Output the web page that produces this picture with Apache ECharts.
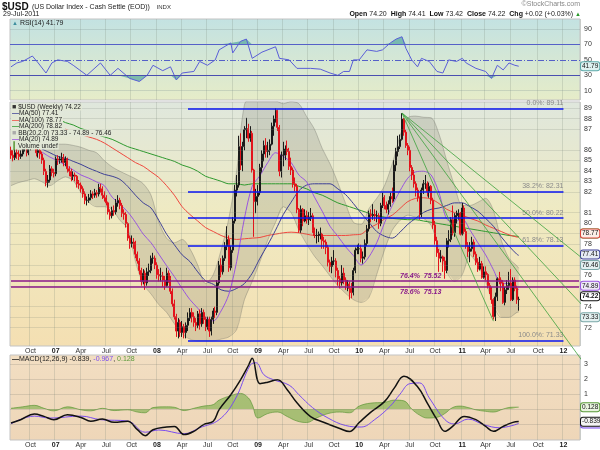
<!DOCTYPE html>
<html>
<head>
<meta charset="utf-8">
<script src="https://cdn.jsdelivr.net/npm/echarts@6.0.0/dist/echarts.min.js"></script>
<style>
  html, body { margin: 0; padding: 0; background: #fff; }
  #chart { width: 600px; height: 450px; }
</style>
</head>
<body>
<div id="chart"></div>
<script>
// weekly bars, first bar = week ending 28-Jul-2006
var startDate = '2006-07-28';
var weekCount = 293;   // axis runs on to early March 2012

var opens = [
85.6,85.2,85.0,85.4,85.3,85.1,85.3,85.9,86.0,85.4,
85.8,86.6,86.7,86.1,85.4,85.6,85.3,84.8,83.9,83.0,
83.2,84.1,83.8,83.7,84.9,84.8,84.9,85.0,84.6,84.9,
84.1,83.9,83.5,83.6,83.5,82.9,82.8,82.5,82.1,81.6,
81.6,81.8,82.1,82.0,82.2,82.1,82.6,82.5,82.0,81.8,
81.4,80.7,80.4,80.8,80.7,81.4,81.6,81.2,80.6,80.5,
79.8,78.7,78.3,78.4,78.3,77.5,77.0,76.3,75.5,76.1,
75.4,76.2,76.3,77.2,77.2,76.7,76.0,75.9,75.9,75.6,
75.2,76.1,75.7,74.8,73.9,73.0,72.0,72.6,71.9,72.3,
71.9,72.4,72.9,73.3,73.0,72.6,72.4,73.2,72.5,73.3,
72.8,72.3,72.8,72.0,72.8,73.4,73.3,75.4,76.7,76.2,
77.2,78.1,78.6,76.5,77.8,80.0,82.4,82.8,85.9,84.4,
85.9,87.3,87.4,86.6,87.0,84.0,81.5,81.9,82.2,84.2,
85.3,86.0,85.5,85.6,86.1,87.6,88.2,88.9,87.5,83.9,
85.2,85.2,85.7,85.5,84.3,84.0,82.9,82.7,80.9,79.3,
80.9,80.0,80.4,80.1,80.3,80.4,79.3,78.9,78.9,78.9,
79.0,78.5,78.4,78.0,76.9,76.6,77.0,77.0,76.3,75.7,
75.4,76.1,75.6,75.2,75.3,75.0,74.7,76.3,77.8,77.9,
77.9,77.2,77.3,78.3,79.4,80.5,80.4,80.5,80.4,80.4,
79.8,81.2,81.8,81.2,80.9,81.3,81.9,81.7,84.4,85.5,
85.9,86.5,88.2,87.1,86.0,85.6,84.2,83.6,82.9,82.4,
81.8,80.5,82.4,82.9,82.9,82.3,82.7,81.6,79.7,78.5,
77.6,77.2,77.3,77.0,76.3,78.5,78.6,80.1,79.1,80.4,
80.4,80.6,79.0,81.0,79.2,78.1,77.7,77.9,78.4,77.5,
76.9,76.4,76.8,75.8,76.2,76.0,75.2,74.9,74.2,73.0,
74.4,75.7,75.6,75.4,74.0,74.9,75.2,75.4,74.2,75.6,
75.0,74.20];
var highs = [
85.9,85.6,85.7,85.8,85.6,85.6,86.2,86.4,86.2,86.0,
86.8,87.0,86.9,86.3,86.0,85.8,85.5,85.0,84.1,83.6,
84.4,84.3,84.1,85.1,85.2,85.1,85.4,85.3,85.1,85.0,
84.3,84.1,83.9,83.8,83.6,83.2,83.0,82.7,82.3,81.9,
82.1,82.4,82.3,82.5,82.4,82.9,82.9,82.7,82.3,82.0,
81.5,80.9,81.1,81.2,81.7,82.0,81.8,81.4,80.9,80.7,
79.9,78.9,78.9,78.7,78.5,77.7,77.2,76.5,76.4,76.3,
76.5,76.8,77.4,77.6,77.4,76.9,76.4,76.5,76.2,75.9,
76.5,76.3,75.9,75.0,74.2,73.2,72.9,72.8,72.7,72.5,
72.6,73.3,73.6,73.6,73.3,72.9,73.4,73.5,73.6,73.5,
73.0,73.0,73.0,73.0,73.6,73.7,75.6,77.0,77.2,77.4,
78.4,79.6,78.9,78.1,80.3,82.8,83.6,86.8,87.0,86.3,
87.6,88.3,87.8,87.6,87.2,84.1,82.5,82.8,84.5,85.6,
86.4,86.6,86.3,86.5,87.9,88.5,89.1,89.0,87.7,85.5,
86.3,86.0,86.4,85.8,85.0,84.2,83.4,82.9,81.0,81.2,
81.0,80.9,80.8,80.7,81.0,80.6,79.5,79.4,79.2,79.5,
79.1,78.8,78.6,78.2,77.1,77.3,77.8,77.2,76.5,75.9,
76.7,76.5,75.8,75.6,75.5,75.4,76.5,78.0,78.2,78.3,
78.2,77.7,78.6,79.7,80.8,80.9,81.3,80.9,80.8,80.6,
81.4,82.2,82.0,81.5,81.6,82.2,82.6,84.8,85.8,86.8,
86.9,88.7,88.3,87.3,86.2,85.9,84.4,84.0,83.1,82.6,
81.9,82.6,83.2,83.6,83.1,83.0,82.8,81.8,80.0,78.8,
77.9,77.8,77.4,77.3,78.7,79.3,80.3,81.2,80.6,80.8,
80.9,80.7,81.4,81.2,79.4,78.4,78.4,78.8,78.6,77.7,
77.2,77.3,77.0,76.6,76.6,76.1,75.4,75.1,74.3,74.7,
75.8,76.2,75.8,75.6,75.1,75.6,76.2,76.4,75.8,75.8,
75.2,74.41];
var lows = [
84.9,84.7,84.8,84.9,84.8,84.9,85.1,85.5,85.1,85.2,
85.6,86.3,85.9,85.1,85.0,84.9,84.5,83.6,82.7,82.6,
83.0,83.5,83.4,83.5,84.4,84.5,84.6,84.3,84.3,83.8,
83.5,83.1,83.2,83.1,82.6,82.5,82.2,81.8,81.3,81.2,
81.4,81.6,81.7,81.8,81.8,81.9,82.2,81.7,81.5,81.2,
80.5,80.1,80.2,80.4,80.5,81.1,80.9,80.3,80.1,79.5,
78.5,77.9,78.0,77.9,77.2,76.8,76.0,75.2,75.3,74.9,
75.2,75.9,76.1,76.8,76.4,75.7,75.5,75.5,75.1,74.9,
75.1,75.4,74.6,73.7,72.8,71.6,71.5,71.6,71.6,71.5,
71.5,72.0,72.7,72.6,72.3,72.0,72.2,72.1,72.3,72.5,
72.0,72.1,71.6,71.7,72.5,72.9,73.1,75.2,75.8,76.0,
77.0,77.8,76.2,76.3,77.6,79.8,81.9,82.6,84.0,83.9,
85.6,86.6,86.3,86.3,83.8,78.8,80.6,81.2,82.0,83.8,
84.7,85.0,85.0,85.2,86.0,86.8,87.9,87.2,83.5,83.4,
84.3,84.8,85.2,84.0,83.6,82.6,82.3,80.6,79.1,79.1,
79.6,79.9,79.8,79.7,80.0,79.1,78.7,78.3,78.4,78.6,
77.9,77.9,77.5,76.6,76.2,76.1,76.7,75.8,75.2,75.0,
75.2,75.3,74.9,74.8,74.2,74.3,74.5,76.1,77.5,77.5,
76.9,76.8,77.1,78.1,79.2,79.9,80.1,80.0,79.9,79.4,
79.6,81.0,80.9,80.6,80.5,81.1,81.4,81.5,83.9,85.1,
85.7,86.4,86.8,85.8,85.2,83.9,83.2,82.6,81.9,81.5,
80.1,80.3,82.1,82.5,81.9,81.8,81.3,79.4,78.2,77.3,
76.2,76.9,76.2,75.7,76.1,78.0,78.4,78.9,78.8,79.8,
80.1,78.9,78.9,79.0,77.9,77.3,76.9,77.7,77.3,76.7,
76.2,76.3,75.7,75.7,75.6,75.0,74.6,73.9,72.8,72.7,
74.1,75.3,74.8,73.9,73.8,74.6,74.9,74.1,74.1,74.8,
73.9,73.42];
var closes = [
85.2,85.0,85.4,85.3,85.1,85.3,85.9,86.0,85.4,85.8,
86.6,86.7,86.1,85.4,85.6,85.3,84.8,83.9,83.0,83.2,
84.1,83.8,83.7,84.9,84.8,84.9,85.0,84.6,84.9,84.1,
83.9,83.5,83.6,83.5,82.9,82.8,82.5,82.1,81.6,81.6,
81.8,82.1,82.0,82.2,82.1,82.6,82.5,82.0,81.8,81.4,
80.7,80.4,80.8,80.7,81.4,81.6,81.2,80.6,80.5,79.8,
78.7,78.3,78.4,78.3,77.5,77.0,76.3,75.5,76.1,75.4,
76.2,76.3,77.2,77.2,76.7,76.0,75.9,75.9,75.6,75.2,
76.1,75.7,74.8,73.9,73.0,72.0,72.6,71.9,72.3,71.9,
72.4,72.9,73.3,73.0,72.6,72.4,73.2,72.5,73.3,72.8,
72.3,72.8,72.0,72.8,73.4,73.3,75.4,76.7,76.2,77.2,
78.1,78.6,76.5,77.8,80.0,82.4,82.8,85.9,84.4,85.9,
87.3,87.4,86.6,87.0,84.0,81.5,81.9,82.2,84.2,85.3,
86.0,85.5,85.6,86.1,87.6,88.2,88.9,87.5,83.9,85.2,
85.2,85.7,85.5,84.3,84.0,82.9,82.7,80.9,79.3,80.9,
80.0,80.4,80.1,80.3,80.4,79.3,78.9,78.9,78.9,79.0,
78.5,78.4,78.0,76.9,76.6,77.0,77.0,76.3,75.7,75.4,
76.1,75.6,75.2,75.3,75.0,74.7,76.3,77.8,77.9,77.9,
77.2,77.3,78.3,79.4,80.5,80.4,80.5,80.4,80.4,79.8,
81.2,81.8,81.2,80.9,81.3,81.9,81.7,84.4,85.5,85.9,
86.5,88.2,87.1,86.0,85.6,84.2,83.6,82.9,82.4,81.8,
80.5,82.4,82.9,82.9,82.3,82.7,81.6,79.7,78.5,77.6,
77.2,77.3,77.0,76.3,78.5,78.6,80.1,79.1,80.4,80.4,
80.6,79.0,81.0,79.2,78.1,77.7,77.9,78.4,77.5,76.9,
76.4,76.8,75.8,76.2,76.0,75.2,74.9,74.2,73.0,74.4,
75.7,75.6,75.4,74.0,74.9,75.2,75.4,74.2,75.6,75.0,
74.20,74.22];

// indicator lines read every 4th week (k -> week 4k), last value at the final bar
var maStep = 4;
var ma20 = [null,null,null,null,85.45,85.05,84.75,84.4,84.0,83.6,83.35,83.05,82.75,81.85,81.3,80.7,79.9,79.0,78.35,77.5,76.65,75.85,74.99,74.2,73.6,72.96,72.7,73.4,74.58,76.95,80.2,82.7,83.55,84.6,85.4,85.1,84.6,83.6,83.05,81.85,80.75,79.6,78.85,78.05,77.4,76.7,77.3,78.35,79.85,81.2,82.35,83.35,83.85,83.9,83.6,82.2,80.15,79.95,80.15,79.3,78.35,77.45,76.35,75.35,75.35,75.05];
var ma50 = [null,null,null,null,85.7,85.4,85.1,84.95,84.7,84.45,84.15,83.9,83.65,83.5,83.25,82.7,82.0,81.4,81.0,80.05,79.0,78.2,77.45,76.95,76.2,75.55,75.3,74.9,74.8,75.0,75.35,76.1,77.2,78.2,79.3,80.5,81.45,82.35,82.8,82.9,82.9,82.9,82.5,82.05,81.35,80.6,79.9,79.2,78.85,78.7,79.15,79.75,80.2,80.65,80.9,81.0,81.2,81.4,81.4,81.1,80.75,80.2,79.6,78.8,78.1,77.5];
var ma100 = [null,null,null,null,null,null,null,87.35,87.1,86.9,86.7,86.5,86.2,85.8,85.4,85.0,84.6,84.3,83.85,83.4,82.75,82.0,81.1,80.5,80.0,79.5,79.2,78.9,78.7,78.6,78.65,78.7,78.75,78.9,79.0,79.1,79.15,79.1,79.0,78.9,78.9,78.9,78.9,78.9,78.95,79.0,79.45,79.75,80.15,80.45,80.97,81.5,81.75,81.8,81.7,81.35,80.9,80.65,80.45,80.2,80.0,79.7,79.45,79.2,78.95,78.78];
var ma200 = [null,null,null,null,88.7,88.4,88.2,87.9,87.7,87.4,87.2,86.9,86.7,86.5,86.2,85.9,85.7,85.5,85.3,85.1,84.9,84.7,84.4,84.2,83.9,83.5,83.3,83.1,82.9,82.9,82.8,82.9,82.9,82.9,82.9,82.9,82.9,82.7,82.5,82.2,82.0,81.7,81.4,81.2,81.0,80.8,80.6,80.4,80.3,80.2,80.15,80.1,80.1,80.0,79.9,79.8,79.7,79.6,79.5,79.4,79.3,79.2,79.1,79.0,78.9,78.84];
var bbUpper = [86.8,87.0,87.2,87.0,86.7,86.3,86.1,86.1,86.0,85.85,85.6,85.4,84.75,84.25,83.9,83.6,83.3,82.9,82.0,79.9,78.7,78.35,78.6,77.9,76.7,75.35,76.0,77.8,80.2,83.9,89.4,90.2,90.2,90.0,89.8,89.5,89.7,89.5,88.4,87.35,85.75,84.5,83.0,81.35,79.9,79.75,80.95,81.75,82.75,84.5,86.8,88.3,88.45,88.35,88.3,86.95,84.75,82.75,81.2,81.2,81.45,81.75,80.8,78.55,77.2,76.65];
var bbLower = [82.75,83.0,83.15,83.3,83.05,82.75,83.15,83.45,83.15,82.2,81.45,81.1,81.1,80.9,80.05,79.45,76.95,75.3,74.6,73.85,73.3,72.5,71.8,71.45,71.33,71.33,71.33,71.45,71.6,72.1,74.2,75.5,76.95,78.55,79.9,81.1,80.65,79.3,78.25,77.35,76.65,75.9,75.2,74.65,74.2,74.0,74.35,76.0,77.8,79.3,80.05,80.45,80.3,80.2,79.65,77.95,76.2,75.5,76.0,77.45,76.7,75.5,73.85,72.95,72.95,73.3];
var lastMa20 = 74.89, lastMa50 = 77.41, lastMa100 = 78.77, lastMa200 = 78.82;
var lastBbUpper = 76.46, lastBbLower = 73.33;

// RSI(14)
var rsiWeeks = [0,3,6,11,14,18,21,24,29,32,39,46,51,55,61,66,70,73,78,82,85,88,94,97,101,105,107,113,114,118,121,124,129,136,138,143,147,148,154,159,164,168,171,174,176,179,183,188,191,195,198,201,203,206,209,211,215,219,222,225,229,232,234,239,244,247,250,253,256,259,261];
var rsiVals = [41,46,48,55,46,33,46,50,48,43,30,46,30,39,26,22,30,43,36,41,24,33,35,48,43,50,63,72,59,74,77,52,60,67,52,50,39,41,39,38,33,30,35,35,50,50,63,61,63,72,77,80,65,50,41,52,48,35,33,50,48,52,46,39,35,26,43,37,46,43,41.79];

// MACD(12,26,9)
var macdWeeks = [0,5,12,17,22,29,36,41,47,53,60,65,69,73,80,84,89,94,99,104,107,113,118,122,124,128,132,137,142,147,154,161,169,174,179,185,192,197,202,209,214,219,223,227,233,239,244,248,253,258,261];
var macdVals = [-0.93,-0.71,-0.33,-0.49,-0.71,-0.38,-0.56,-0.82,-0.67,-0.89,-0.82,-1.38,-1.78,-1.38,-1.2,-1.16,-1.71,-1.49,-1.04,-0.82,-0.04,0.96,1.96,2.9,3.4,1.7,1.8,1.96,1.3,0.42,-0.5,-0.9,-1.3,-1.5,-0.9,-0.2,0.5,1.4,2.2,1.5,0.4,-0.71,-1.49,-1.16,-0.49,-0.71,-1.16,-1.49,-1.16,-0.89,-0.839];
var sigWeeks = [0,12,20,36,46,60,69,76,89,97,107,115,123,126,130,135,143,148,155,163,172,180,187,195,200,205,210,215,223,228,235,243,251,261];
var sigVals = [-0.99,-0.47,-0.6,-0.47,-0.71,-0.8,-1.55,-1.4,-1.65,-1.25,-0.71,0.6,2.95,3.1,2.3,1.96,1.6,0.96,0.1,-0.6,-1.1,-1.2,-0.7,0.2,1.0,1.7,1.75,0.75,-0.7,-1.0,-0.67,-1.04,-1.25,-0.967];
var histWeeks = [0,6,12,17,22,29,36,41,47,53,60,65,69,73,80,84,89,94,99,104,107,113,118,122,124,127,132,137,142,147,152,157,163,169,174,179,185,192,197,202,206,210,214,219,223,227,231,235,239,244,248,253,257,261];
var histVals = [0.05,0.15,0.25,0.05,-0.12,0.15,-0.05,-0.12,0.05,-0.1,-0.05,-0.2,-0.25,0.1,0.15,0.12,-0.1,0.05,0.2,0.3,0.6,0.9,1.05,0.75,0.3,-0.6,-0.3,-0.2,-0.5,-0.8,-0.9,-0.6,-0.3,-0.2,-0.25,0.2,0.4,0.45,0.6,0.55,0.0,-0.4,-0.6,-0.55,-0.3,0.1,0.2,0.1,-0.05,-0.15,-0.2,0.0,0.12,0.128];

// annotations
var fibLevels = [89.11, 82.31, 80.22, 78.13, 71.33];
var fibNames = ['0.0%', '38.2%', '50.0%', '61.8%', '100.0%'];
var fibStartWeek = 91, fibEndWeek = 284;
var retrLevels = [75.52, 75.13];
var retrNames = ['76.4%', '78.6%'];
var fanApex = [201, 88.71];
var fanEnds = [[248, 72.69], [302, 68.5], [302, 72.6], [302, 76.24]];
var priceTicks = [72,73,74,75,76,77,78,79,80,81,82,83,84,85,86,87,88,89];
var monthNames = ['Jan','Feb','Mar','Apr','May','Jun','Jul','Aug','Sep','Oct','Nov','Dec'];

// ---- chart ----
var FONT = 'Liberation Sans, Arial, sans-serif';
var LN = Math.log;
var lastWeek = closes.length - 1;

var weeks = [];
var d0 = new Date(startDate + 'T00:00:00Z').getTime();
for (var i = 0; i < weekCount; i++) {
  weeks.push(new Date(d0 + i * 7 * 864e5).toISOString().slice(0, 10));
}

function quarterTick(index) {
  if (index === 0) return false;
  var m = weeks[index].slice(5, 7), pm = weeks[index - 1].slice(5, 7);
  return m !== pm && (m === '01' || m === '04' || m === '07' || m === '10');
}

function xAxisFor(gi, showLabels) {
  return {
    type: 'category', gridIndex: gi, data: weeks, boundaryGap: true,
    axisLine: { show: false }, axisTick: { show: false },
    axisLabel: {
      show: showLabels, interval: quarterTick, fontSize: 7, color: '#333', margin: 2, fontFamily: FONT,
      formatter: function (v) {
        var m = +v.slice(5, 7);
        return m === 1 ? '{y|' + v.slice(2, 4) + '}' : monthNames[m - 1];
      },
      rich: { y: { fontWeight: 'bold', fontSize: 7, color: '#222', fontFamily: FONT } }
    },
    splitLine: { show: true, interval: quarterTick, lineStyle: { color: 'rgba(120,130,120,0.22)', width: 1 } }
  };
}

function sampled(arr, last) {
  var out = [];
  arr.forEach(function (v, k) { if (v != null) out.push([k * maStep, LN(v)]); });
  out.push([lastWeek, LN(last)]);
  return out;
}
function pairs(ws, vs) { return ws.map(function (w, j) { return [w, vs[j]]; }); }

function valueBox(y, text, border, bg, bold) {
  return {
    yAxis: y,
    lineStyle: { color: 'rgba(0,0,0,0)', width: 0 },
    label: {
      show: true, position: 'end', distance: 1, formatter: text, fontSize: 6.5, fontFamily: FONT,
      color: '#111', fontWeight: bold ? 'bold' : 'normal',
      backgroundColor: bg, borderColor: border, borderWidth: 1, borderRadius: 2, padding: [1, 1, 0, 1]
    }
  };
}

var candleData = opens.map(function (o, j) {
  return [LN(o), LN(closes[j]), LN(lows[j]), LN(highs[j])];
});

var bbLowData = sampled(bbLower, lastBbLower);
var bbUpData = sampled(bbUpper, lastBbUpper);
var bbWidth = bbUpData.map(function (p, j) { return [p[0], p[1] - bbLowData[j][1]]; });

var rsiData = pairs(rsiWeeks, rsiVals);
var series = [];

// RSI panel
series.push({
  type: 'line', xAxisIndex: 0, yAxisIndex: 0, data: [[0, 50]], symbol: 'none', lineStyle: { opacity: 0 }, silent: true, z: 1,
  markLine: {
    silent: true, symbol: 'none', animation: false,
    label: { position: 'end', distance: 4, color: '#333', fontSize: 7, fontFamily: FONT },
    data: [
      { yAxis: 90, lineStyle: { color: 'rgba(120,140,140,0.25)', width: 1, type: 'solid' }, label: { formatter: '90' } },
      { yAxis: 10, lineStyle: { color: 'rgba(120,140,140,0.25)', width: 1, type: 'solid' }, label: { formatter: '10' } },
      { yAxis: 70, lineStyle: { color: '#5560c8', width: 1.2, type: 'solid' }, label: { formatter: '70' } },
      { yAxis: 30, lineStyle: { color: '#4a4fb0', width: 1.2, type: 'solid' }, label: { formatter: '30' } },
      { yAxis: 50, lineStyle: { color: '#5560c8', width: 1, type: [6, 2, 1, 2] }, label: { formatter: '50' } }
    ]
  }
});
series.push({ type: 'line', xAxisIndex: 0, yAxisIndex: 0, stack: 'hi', symbol: 'none', silent: true, z: 2,
  lineStyle: { opacity: 0 }, data: rsiData.map(function (p) { return [p[0], 70]; }) });
series.push({ type: 'line', xAxisIndex: 0, yAxisIndex: 0, stack: 'hi', symbol: 'none', silent: true, z: 2,
  lineStyle: { opacity: 0 }, areaStyle: { color: 'rgba(70,160,150,0.9)' },
  data: rsiData.map(function (p) { return [p[0], Math.max(p[1], 70) - 70]; }) });
series.push({ type: 'line', xAxisIndex: 0, yAxisIndex: 0, stack: 'lo', symbol: 'none', silent: true, z: 2,
  lineStyle: { opacity: 0 }, data: rsiData.map(function (p) { return [p[0], Math.min(p[1], 30)]; }) });
series.push({ type: 'line', xAxisIndex: 0, yAxisIndex: 0, stack: 'lo', symbol: 'none', silent: true, z: 2,
  lineStyle: { opacity: 0 }, areaStyle: { color: 'rgba(70,160,150,0.9)' },
  data: rsiData.map(function (p) { return [p[0], 30 - Math.min(p[1], 30)]; }) });
series.push({
  type: 'line', xAxisIndex: 0, yAxisIndex: 0, data: rsiData, symbol: 'none', z: 3,
  lineStyle: { color: '#5a5ed8', width: 1 },
  markLine: { silent: true, symbol: 'none', animation: false,
    data: [valueBox(41.79, '41.79', '#5aa8a8', '#dff1f0', false)] }
});

// price panel
series.push({
  type: 'line', xAxisIndex: 1, yAxisIndex: 1, data: [[0, LN(80)]], symbol: 'none', lineStyle: { opacity: 0 }, silent: true, z: 1,
  markLine: {
    silent: true, symbol: 'none', animation: false,
    label: { position: 'end', distance: 4, color: '#333', fontSize: 7, fontFamily: FONT },
    lineStyle: { color: 'rgba(120,130,120,0.2)', width: 1, type: 'solid' },
    data: priceTicks.map(function (p) { return { yAxis: LN(p), label: { formatter: String(p) } }; })
  }
});
series.push({ type: 'line', xAxisIndex: 1, yAxisIndex: 1, stack: 'bb', symbol: 'none', silent: true, z: 2,
  lineStyle: { opacity: 0 }, data: bbLowData });
series.push({ type: 'line', xAxisIndex: 1, yAxisIndex: 1, stack: 'bb', symbol: 'none', silent: true, z: 2, smooth: 0.3,
  lineStyle: { opacity: 0 }, areaStyle: { color: 'rgba(105,105,95,0.28)' }, data: bbWidth });
series.push({ type: 'line', xAxisIndex: 1, yAxisIndex: 1, symbol: 'none', silent: true, z: 2, smooth: 0.3,
  lineStyle: { color: 'rgba(110,110,100,0.6)', width: 0.6 }, data: bbUpData });
series.push({ type: 'line', xAxisIndex: 1, yAxisIndex: 1, symbol: 'none', silent: true, z: 2, smooth: 0.3,
  lineStyle: { color: 'rgba(110,110,100,0.6)', width: 0.6 }, data: bbLowData });

[[ma200, lastMa200, '#2f9a2f'], [ma100, lastMa100, '#f0483e'], [ma50, lastMa50, '#3d3f96'], [ma20, lastMa20, '#9a55e0']]
  .forEach(function (m) {
    series.push({ type: 'line', xAxisIndex: 1, yAxisIndex: 1, symbol: 'none', silent: true, z: 3, smooth: 0.3,
      lineStyle: { color: m[2], width: 1 }, data: sampled(m[0], m[1]) });
  });

series.push({
  type: 'candlestick', xAxisIndex: 1, yAxisIndex: 1, data: candleData, barWidth: 1.5, z: 4,
  itemStyle: { color: 'rgba(0,0,0,0)', color0: '#e3131b', borderColor: '#1a1a1a', borderColor0: '#e3131b', borderWidth: 1 }
});

// retracement levels and fib lines
var levelLines = [];
fibLevels.forEach(function (v, j) {
  levelLines.push([
    { coord: [fibStartWeek, LN(v)], lineStyle: { color: '#0a14f0', width: 1.6, type: 'solid' },
      label: { show: true, position: 'insideEndTop', distance: [0, 2], formatter: fibNames[j] + ': ' + v.toFixed(2),
        color: '#8a8a8a', fontSize: 7, fontFamily: FONT } },
    { coord: [fibEndWeek, LN(v)] }
  ]);
});
retrLevels.forEach(function (v, j) {
  var st = { color: '#8a1a8a', width: 1.6, type: 'solid' };
  levelLines.push([{ coord: [0, LN(v)], lineStyle: st, label: { show: false } }, { coord: [200, LN(v)] }]);
  levelLines.push([
    { coord: [200, LN(v)], lineStyle: st,
      label: { show: true, position: j === 0 ? 'insideStartTop' : 'insideStartBottom', distance: [0, 2],
        formatter: retrNames[j] + '  ' + v.toFixed(2), color: '#8a1a8a', fontSize: 7, fontWeight: 'bold',
        fontStyle: 'italic', fontFamily: FONT } },
    { coord: [weekCount - 1, LN(v)] }
  ]);
});
series.push({
  type: 'line', xAxisIndex: 1, yAxisIndex: 1, data: [[0, LN(80)]], symbol: 'none', lineStyle: { opacity: 0 }, silent: true, z: 5,
  markLine: { silent: true, symbol: 'none', animation: false, data: levelLines }
});

fanEnds.forEach(function (e) {
  series.push({ type: 'line', xAxisIndex: 1, yAxisIndex: 1, symbol: 'none', silent: true, z: 5, clip: false,
    lineStyle: { color: '#3da23d', width: 0.8 },
    data: [[fanApex[0], LN(fanApex[1])], [e[0], LN(e[1])]] });
});

series.push({
  type: 'line', xAxisIndex: 1, yAxisIndex: 1, data: [[0, LN(80)]], symbol: 'none', lineStyle: { color: 'rgba(0,0,0,0)' }, silent: true, z: 6,
  markLine: { silent: true, symbol: 'none', animation: false,
    data: [
      valueBox(LN(lastMa200), '78.82', '#2f9a2f', '#eef5e6', false),
      valueBox(LN(lastMa100), '78.77', '#e0443a', '#fbeee6', false),
      valueBox(LN(lastMa50), '77.41', '#3d3f96', '#e6ecf5', false),
      valueBox(LN(lastBbUpper), '76.46', '#7aa8a8', '#e3f0f0', false),
      valueBox(LN(lastMa20), '74.89', '#9a55e0', '#eee8f8', false),
      valueBox(LN(lastBbLower), '73.33', '#7aa8a8', '#e3f0f0', false),
      valueBox(LN(closes[lastWeek]), '74.22', '#111', '#ffffff', true)
    ] }
});

// MACD panel
series.push({
  type: 'line', xAxisIndex: 2, yAxisIndex: 2, data: [[0, 0]], symbol: 'none', lineStyle: { opacity: 0 }, silent: true, z: 1,
  markLine: {
    silent: true, symbol: 'none', animation: false,
    label: { position: 'end', distance: 4, color: '#333', fontSize: 7, fontFamily: FONT },
    lineStyle: { color: 'rgba(120,120,110,0.22)', width: 1, type: 'solid' },
    data: [3, 2, 1, 0, -1].map(function (v) { return { yAxis: v, label: { formatter: String(v), show: v > 0 } }; })
  }
});
series.push({ type: 'line', xAxisIndex: 2, yAxisIndex: 2, data: pairs(histWeeks, histVals), symbol: 'none', silent: true, z: 2, smooth: 0.4,
  lineStyle: { color: '#4f8f2a', width: 0.6 }, areaStyle: { color: 'rgba(110,170,60,0.8)' } });
series.push({ type: 'line', xAxisIndex: 2, yAxisIndex: 2, data: pairs(sigWeeks, sigVals), symbol: 'none', silent: true, z: 3, smooth: 0.4,
  lineStyle: { color: '#7a4cf0', width: 1 } });
series.push({ type: 'line', xAxisIndex: 2, yAxisIndex: 2, data: pairs(macdWeeks, macdVals), symbol: 'none', silent: true, z: 4, smooth: 0.4,
  lineStyle: { color: '#111', width: 1.5 } });
series.push({
  type: 'line', xAxisIndex: 2, yAxisIndex: 2, data: [[0, 0]], symbol: 'none', lineStyle: { color: 'rgba(0,0,0,0)' }, silent: true, z: 6,
  markLine: { silent: true, symbol: 'none', animation: false,
    data: [
      valueBox(-0.967, '-0.967', '#7a4cf0', '#eee8f8', false),
      valueBox(0.128, '0.128', '#5a9a3a', '#e8f3df', false),
      valueBox(-0.839, '-0.839', '#111', '#f4f4f4', false)
    ] }
});

var legendBg = 'rgb(226,232,214)';
function legendRow(y, dash, dashColor, text) {
  return { type: 'text', x: 11, y: y, z: 100, silent: true,
    style: { text: '{d|' + dash + '}{t|' + text + '}', verticalAlign: 'middle',
      backgroundColor: legendBg, padding: [0, 1, 0, 1],
      rich: { d: { fill: dashColor, fontSize: 7, fontWeight: 'bold', fontFamily: FONT },
              t: { fill: '#222', fontSize: 6.5, fontFamily: FONT } } } };
}

var option = {
  animation: false,
  backgroundColor: '#ffffff',
  textStyle: { fontFamily: FONT },
  grid: [
    { left: 10, right: 20, top: 19, height: 81, show: true, borderColor: '#c3c3c3', borderWidth: 1,
      backgroundColor: { type: 'linear', x: 0, y: 0, x2: 0, y2: 1, colorStops: [
        { offset: 0, color: '#c3e2e2' }, { offset: 1, color: '#e6ecc8' }] } },
    { left: 10, right: 20, top: 102, height: 244, show: true, borderColor: '#c3c3c3', borderWidth: 1,
      backgroundColor: { type: 'linear', x: 0, y: 0, x2: 0, y2: 1, colorStops: [
        { offset: 0, color: '#dfe7dd' }, { offset: 0.45, color: '#efeac2' }, { offset: 1, color: '#f4dfb2' }] } },
    { left: 10, right: 20, top: 355, height: 85, show: true, borderColor: '#c3c3c3', borderWidth: 1,
      backgroundColor: { type: 'linear', x: 0, y: 0, x2: 0, y2: 1, colorStops: [
        { offset: 0, color: '#f2dec2' }, { offset: 1, color: '#eed6b8' }] } }
  ],
  xAxis: [xAxisFor(0, false), xAxisFor(1, true), xAxisFor(2, true)],
  yAxis: [
    { type: 'value', gridIndex: 0, min: -2, max: 103, show: false, splitLine: { show: false } },
    { type: 'value', gridIndex: 1, min: LN(70.98), max: LN(89.65), show: false, splitLine: { show: false } },
    { type: 'value', gridIndex: 2, min: -2.07, max: 3.62, show: false, splitLine: { show: false } }
  ],
  series: series,
  graphic: [
    { type: 'text', left: 2, top: 1, silent: true,
      style: { text: '{b|$USD} {n|(US Dollar Index - Cash Settle (EOD))}  {s|INDX}',
        rich: { b: { fontSize: 10, fontWeight: 'bold', fill: '#111', fontFamily: FONT },
                n: { fontSize: 7, fill: '#222', fontFamily: FONT },
                s: { fontSize: 6, fill: '#333', fontFamily: FONT } } } },
    { type: 'text', left: 3, top: 11, silent: true, style: { text: '29-Jul-2011', fontSize: 7, fill: '#222', fontFamily: FONT } },
    { type: 'text', right: 20, top: 1, silent: true, style: { text: '\u00a9StockCharts.com', fontSize: 7, fill: '#888', fontFamily: FONT } },
    { type: 'text', right: 19, top: 11, silent: true,
      style: { text: '{b|Open} 74.20  {b|High} 74.41  {b|Low} 73.42  {b|Close} 74.22  {b|Chg} +0.02 (+0.03%) {g|\u25b2}',
        fontSize: 7, fill: '#222', fontFamily: FONT,
        rich: { b: { fontWeight: 'bold', fontSize: 7, fill: '#111', fontFamily: FONT }, g: { fill: '#2a9a2a', fontSize: 6 } } } },
    { type: 'text', x: 12, y: 23, z: 100, silent: true,
      style: { text: '{d|\u25b2}{t| RSI(14) 41.79}', verticalAlign: 'middle',
        rich: { d: { fill: '#3d8e9e', fontSize: 6, fontFamily: FONT }, t: { fill: '#222', fontSize: 7, fontFamily: FONT } } } },
    legendRow(107, '\u25a0 ', '#333', '$USD (Weekly) 74.22'),
    legendRow(113.5, '\u2014', '#3d3f96', 'MA(50) 77.41'),
    legendRow(120, '\u2014', '#f0483e', 'MA(100) 78.77'),
    legendRow(126.5, '\u2014', '#2f9a2f', 'MA(200) 78.82'),
    legendRow(133, '\u25a0 ', '#aaa', 'BB(20,2.0) 73.33 - 74.89 - 76.46'),
    legendRow(139.5, '\u2014', '#9a55e0', 'MA(20) 74.89'),
    legendRow(146, '\u2503 ', '#4f8f2a', 'Volume undef'),
    { type: 'text', x: 12, y: 359.5, z: 100, silent: true,
      style: { text: '{d|\u2014}{t|MACD(12,26,9) -0.839, }{p|-0.967}{t|, }{g|0.128}', verticalAlign: 'middle',
        rich: { d: { fill: '#111', fontSize: 7, fontWeight: 'bold', fontFamily: FONT },
                t: { fill: '#222', fontSize: 7, fontFamily: FONT },
                p: { fill: '#7a4cf0', fontSize: 7, fontFamily: FONT },
                g: { fill: '#5a9a3a', fontSize: 7, fontFamily: FONT } } } }
  ]
};

var chart = echarts.init(document.getElementById('chart'), null, { renderer: 'canvas' });
chart.setOption(option);
</script>
</body>
</html>
